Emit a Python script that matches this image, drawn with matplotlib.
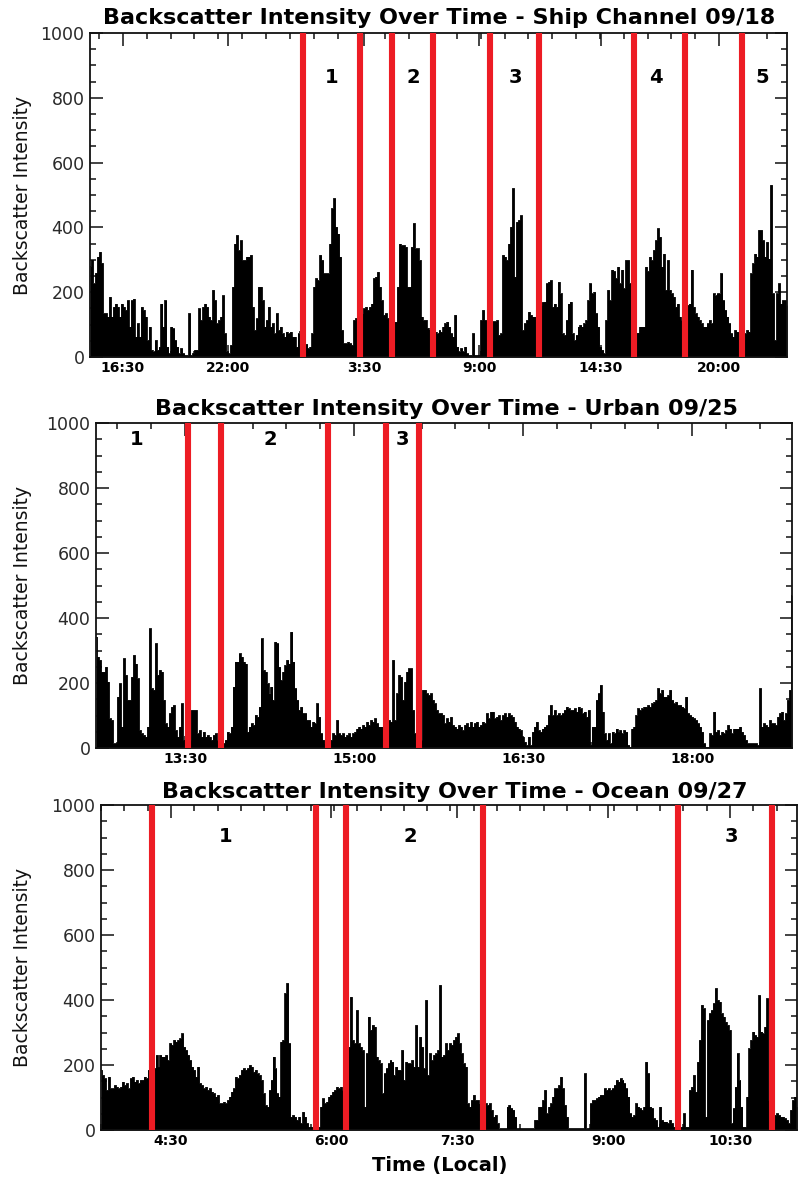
import numpy as np
import matplotlib
matplotlib.use("Agg")
import matplotlib.pyplot as plt

# ---------------- data ----------------
ship_title = "Backscatter Intensity Over Time - Ship Channel 09/18"
ship_vals = [280,300,227,260,310,325,290,135,135,125,186,125,155,165,155,125,165,155,145,175,94,175,180,63,104,63,155,145,125,52,94,22,17,52,22,32,165,94,175,32,11,94,88,52,32,11,27,11,6,6,135,6,11,22,22,150,114,155,165,155,125,114,207,175,104,114,125,190,73,17,11,37,217,350,376,329,360,299,299,310,310,315,155,83,119,217,217,175,94,114,155,94,104,73,135,83,94,73,63,78,73,78,63,63,32,73,80,60,50,40,27,32,73,217,243,237,315,299,258,258,258,350,459,490,402,381,310,83,42,42,47,42,37,114,120,125,130,135,150,155,145,155,165,243,248,263,217,175,130,135,120,115,110,109,109,217,350,345,345,340,217,217,340,413,335,335,299,125,114,114,90,85,80,78,78,73,
             83,78,94,104,109,94,73,63,130,32,17,27,17,32,11,6,6,73,6,6,6,114,145,114,114,110,110,110,110,114,68,73,315,310,299,350,402,521,248,417,423,437,83,104,114,140,130,125,125,114,150,160,170,171,227,232,237,155,165,155,232,196,73,68,114,165,171,73,52,68,94,99,94,104,114,175,227,196,201,135,94,32,22,11,114,207,175,270,265,243,279,227,270,212,299,299,227,73,75,75,75,94,94,94,279,265,310,299,330,360,397,371,279,319,207,299,207,196,186,155,165,125,114,119,150,160,165,270,155,135,125,114,104,94,94,104,114,104,196,190,196,196,258,175,145,125,104,73,63,83,78,78,75,75,73,83,78,258,289,319,310,392,392,360,310,355,304,531,196,52,196,227,165,175,175,160]
ship_tick_labels = ["16:30", "22:00", "3:30", "9:00", "14:30", "20:00"]
ship_tick_hours = [1.52, 6.37, 12.64, 17.95, 23.58, 29.03]
ship_red_hours = [9.83, 12.46, 13.94, 15.83, 18.46, 20.72, 25.10, 27.46, 30.09]
ship_region_names = ["1", "2", "3", "4", "5"]
ship_region_hours = [11.17, 14.91, 19.61, 26.12, 31.01]

urban_title = "Backscatter Intensity Over Time - Urban 09/25"
urban_vals = [343,281,271,235,235,250,204,91,86,14,14,158,199,66,276,225,148,148,219,286,260,214,55,45,40,35,66,368,184,179,322,225,240,235,148,76,66,107,127,132,55,35,66,137,25,14,14,25,117,117,117,45,55,35,50,35,40,35,25,40,45,25,14,14,14,25,50,45,66,189,266,266,291,281,266,260,50,66,76,71,102,96,127,337,240,235,199,168,189,148,327,322,250,209,235,255,271,260,358,266,184,148,117,127,107,107,86,86,66,81,76,137,96,45,25,14,14,14,25,45,40,86,45,40,45,35,40,45,35,45,50,60,66,60,71,66,81,71,86,81,91,76,66,66,66,76,86,86,81,271,86,168,225,219,148,204,235,245,245,117,45,14,14,25,179,179,168,163,168,148,137,117,107,107,102,
              76,91,81,96,71,66,60,71,66,55,71,76,66,81,66,76,81,66,71,81,76,107,91,112,112,91,96,101,86,101,107,96,107,101,96,81,66,60,55,35,19,9,35,9,50,66,81,55,50,60,66,71,101,132,101,117,101,107,101,107,117,127,122,117,117,122,112,127,122,107,112,96,117,9,66,66,148,168,194,112,45,25,45,14,50,45,60,50,55,45,55,50,9,4,60,66,101,122,117,122,127,127,132,127,137,142,148,184,168,179,158,158,163,179,148,137,142,132,132,127,122,158,107,101,96,91,86,76,66,50,14,4,4,45,40,112,50,55,40,50,45,55,71,60,45,60,60,60,66,50,40,25,14,14,14,14,14,9,184,66,76,71,66,86,76,76,71,96,107,112,86,107,148,179,470]
urban_tick_labels = ["13:30", "15:00", "16:30", "18:00"]
urban_tick_hours = [0.79, 2.29, 3.79, 5.29]
urban_red_hours = [0.82, 1.11, 2.06, 2.57, 2.87]
urban_region_names = ["1", "2", "3"]
urban_region_hours = [0.36, 1.55, 2.72]

ocean_title = "Backscatter Intensity Over Time - Ocean 09/27"
ocean_vals = [185,169,159,123,164,128,128,138,133,128,133,149,138,144,128,159,164,149,154,144,154,154,164,159,185,195,195,190,231,195,231,226,226,231,215,267,262,277,272,277,282,297,256,246,231,215,195,185,164,195,144,138,128,133,123,128,118,113,103,108,82,82,87,82,92,103,118,128,164,159,169,185,190,185,190,200,195,179,185,174,169,154,113,77,72,123,154,226,190,113,103,272,277,421,452,267,41,46,41,31,41,21,56,41,21,10,10,10,10,10,10,72,97,82,87,103,108,118,123,133,128,133,123,123,144,256,410,277,267,369,267,256,246,72,236,349,308,323,318,226,215,205,113,174,190,205,215,210,169,195,185,185,246,154,210,205,205,215,195,323,195,287,256,190,400,169,236,215,231,236,246,446,226,231,267,246,
              267,262,277,287,297,267,236,205,195,82,72,92,108,92,92,82,82,82,82,77,82,62,41,46,21,5,5,5,5,72,77,67,62,41,5,5,5,5,5,5,5,5,5,31,31,72,72,92,123,51,72,82,103,128,128,138,164,128,77,41,5,5,5,5,5,5,5,5,174,5,5,82,92,92,97,103,108,108,128,123,128,123,128,138,154,149,159,154,144,128,103,51,41,46,82,72,67,62,72,210,174,72,67,36,31,10,72,31,26,26,21,31,21,10,31,10,10,10,51,10,10,123,133,169,118,210,277,385,374,41,338,359,369,390,436,400,395,359,349,333,323,308,21,67,133,236,154,72,10,10,103,251,277,303,292,287,415,303,297,318,405,92,80,62,46,51,46,41,41,36,31,21,62,92,103,72]
ocean_tick_labels = ["4:30", "6:00", "7:30", "9:00", "10:30"]
ocean_tick_hours = [0.751, 2.469, 3.821, 5.442, 6.751]
ocean_red_hours = [0.547, 2.308, 2.630, 4.100, 6.193, 7.202]
ocean_region_names = ["1", "2", "3"]
ocean_region_hours = [1.338, 3.316, 6.770]

# ---------------- layout ----------------
W, H = 798, 1179
fig = plt.figure(figsize=(W / 100, H / 100), dpi=100)
plt.rcParams['font.family'] = ['DejaVu Sans']

RED = '#ED1C24'

panels = [
    dict(box=(90, 33, 787, 357), span=32.16, vals=ship_vals, ticks=ship_tick_hours,
         tlabels=ship_tick_labels, ndiv=5, red=ship_red_hours, rnames=ship_region_names,
         rpos=ship_region_hours, ry=864, title=ship_title, tx=439, ty=18),
    dict(box=(96, 423, 792, 748), span=6.176, vals=urban_vals, ticks=urban_tick_hours,
         tlabels=urban_tick_labels, ndiv=5, red=urban_red_hours, rnames=urban_region_names,
         rpos=urban_region_hours, ry=948, title=urban_title, tx=446, ty=409),
    dict(box=(101, 805, 797, 1130), span=7.47, vals=ocean_vals, ticks=ocean_tick_hours,
         tlabels=ocean_tick_labels, ndiv=6, red=ocean_red_hours, rnames=ocean_region_names,
         rpos=ocean_region_hours, ry=902, title=ocean_title, tx=455, ty=792),
]

for p in panels:
    l, t, r, b = p['box']
    ax = fig.add_axes([l / W, 1 - b / H, (r - l) / W, (b - t) / H])
    vals = np.array(p['vals'], dtype=float)
    x = np.linspace(0, p['span'], len(vals))
    ax.fill_between(x, vals, 0, step='mid', color='black', lw=0, zorder=2)
    ax.step(x, vals, where='mid', color='black', lw=0.6, zorder=2)
    for xr in p['red']:
        ax.axvline(xr, color=RED, lw=4.4, zorder=3)
    for name, xp in zip(p['rnames'], p['rpos']):
        ax.text(xp, p['ry'], name, ha='center', va='center', fontsize=14,
                fontweight='bold', color='black', zorder=4)
    ax.set_xlim(0, p['span'])
    ax.set_ylim(0, 1000)
    ax.set_yticks(np.arange(0, 1001, 200))
    ax.set_yticks(np.arange(0, 1001, 50), minor=True)
    ax.set_xticks(p['ticks'])
    ax.set_xticklabels(p['tlabels'], fontsize=10, fontweight='bold')
    tk = p['ticks']
    step = (tk[-1] - tk[0]) / (len(tk) - 1) / p['ndiv']
    minors = np.arange(tk[0] - 20 * step, p['span'] + step, step)
    minors = minors[(minors > 0) & (minors < p['span'])]
    ax.set_xticks(minors, minor=True)
    ax.tick_params(axis='y', labelsize=12.5, labelcolor='#2a2a2a')
    ax.tick_params(which='both', direction='in', top=True, right=True, color='#111111', width=1.1)
    ax.tick_params(which='major', length=9, pad=4)
    ax.tick_params(which='minor', length=4.5)
    ax.tick_params(axis='x', pad=3)
    for s in ax.spines.values():
        s.set_linewidth(1.3)
        s.set_color('#111111')
    fig.text(p['tx'] / W, 1 - p['ty'] / H, p['title'], ha='center', va='center',
             fontsize=16, fontweight='bold', color='black')
    fig.text(23 / W, 1 - ((t + b) / 2) / H, 'Backscatter Intensity', rotation=90,
             ha='center', va='center', fontsize=13.5, color='#111111')

fig.text(440 / W, 1 - 1165 / H, 'Time (Local)', ha='center', va='center',
         fontsize=14, fontweight='bold', color='black')

fig.savefig('out.png', dpi=100)
